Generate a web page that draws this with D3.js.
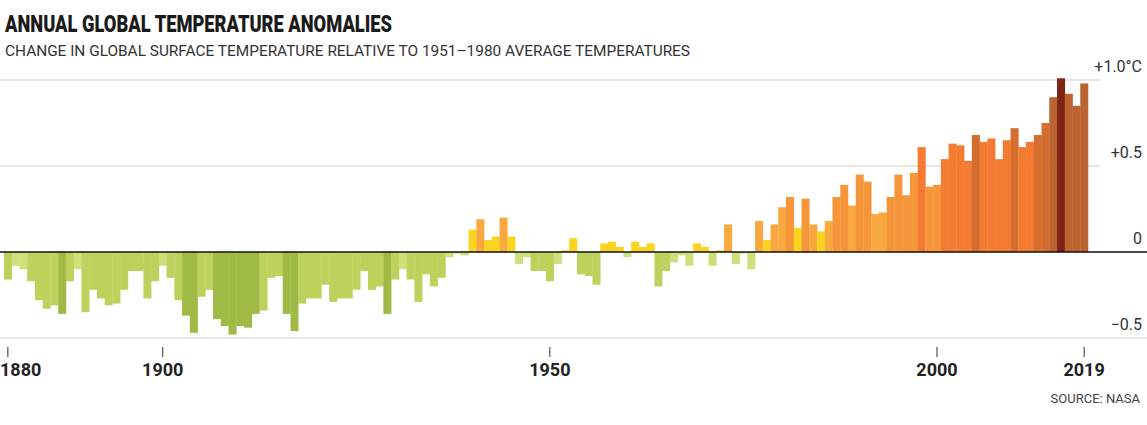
<!DOCTYPE html>
<html><head><meta charset="utf-8">
<script src="https://cdn.jsdelivr.net/npm/d3@7"></script>
<style>body{margin:0;background:#fff}svg{display:block}text{font-family:Roboto,"Noto Sans",sans-serif}</style>
</head><body><svg id="c" width="1147" height="425"></svg>
<script>
// data: NASA GISTEMP annual anomalies
const years = d3.range(1880, 2020);
const anomalies = [
  -0.16,-0.08,-0.10,-0.17,-0.28,-0.33,-0.31,-0.36,-0.17,-0.10,
  -0.35,-0.22,-0.27,-0.31,-0.30,-0.22,-0.11,-0.11,-0.27,-0.17,
  -0.08,-0.15,-0.28,-0.37,-0.47,-0.26,-0.22,-0.39,-0.43,-0.48,
  -0.43,-0.44,-0.36,-0.34,-0.15,-0.14,-0.36,-0.46,-0.30,-0.27,
  -0.27,-0.19,-0.29,-0.27,-0.27,-0.22,-0.11,-0.22,-0.20,-0.36,
  -0.16,-0.10,-0.16,-0.29,-0.13,-0.20,-0.15,-0.03,-0.01,-0.02,
   0.13, 0.19, 0.07, 0.09, 0.20, 0.09,-0.07,-0.03,-0.11,-0.11,
  -0.17,-0.07, 0.01, 0.08,-0.13,-0.14,-0.19, 0.05, 0.06, 0.03,
  -0.03, 0.06, 0.03, 0.05,-0.20,-0.11,-0.06,-0.02,-0.08, 0.05,
   0.03,-0.08, 0.01, 0.16,-0.07,-0.01,-0.10, 0.18, 0.07, 0.16,
   0.26, 0.32, 0.14, 0.31, 0.16, 0.12, 0.18, 0.32, 0.39, 0.27,
   0.45, 0.41, 0.22, 0.23, 0.32, 0.45, 0.33, 0.46, 0.61, 0.38,
   0.39, 0.54, 0.63, 0.62, 0.53, 0.68, 0.64, 0.66, 0.54, 0.65,
   0.72, 0.61, 0.64, 0.68, 0.75, 0.90, 1.01, 0.92, 0.85, 0.98];
const yTicks = [1.0, 0.5, 0, -0.5];
const yTickLabels = ["+1.0°C", "+0.5", "0", "\u22120.5"];
const xTicks = [1880, 1900, 1950, 2000, 2019];

const svg = d3.select("#c");
const x = d3.scaleBand().domain(years).range([4, 1088]).padding(0);
const y = d3.scaleLinear().domain([-0.5, 1.0]).range([338, 80]);

function colour(v, yr) {
  if (yr === 2016) return "#7e2415";
  if (v < -0.35) return "#a0bb45";
  if (v < -0.1) return "#bdd15c";
  if (v < 0) return "#cfe07a";
  if (v < 0.15) return "#fbd422";
  if (v < 0.3) return "#f9a83f";
  if (v < 0.5) return "#f6963a";
  if (v < 0.67) return "#f47b32";
  if (v < 0.8) return "#d46d2e";
  return "#bb6331";
}

// grid
svg.selectAll("line.grid").data(yTicks.filter(d => d !== 0)).enter().append("line")
  .attr("x1", 0).attr("x2", d => d === -0.5 ? 1147 : 1100)
  .attr("y1", d => y(d)).attr("y2", d => y(d))
  .attr("stroke", "#cfcfcf").attr("stroke-width", 1.2);

// bars
svg.selectAll("rect.bar").data(years).enter().append("rect")
  .attr("x", d => x(d)).attr("width", x.bandwidth() + 0.3)
  .attr("y", (d, i) => y(Math.max(0, anomalies[i])))
  .attr("height", (d, i) => Math.abs(y(anomalies[i]) - y(0)))
  .attr("fill", (d, i) => colour(anomalies[i], d));

// baseline
svg.append("line").attr("x1", 0).attr("x2", 1147).attr("y1", y(0)).attr("y2", y(0))
  .attr("stroke", "#111").attr("stroke-width", 1.3);

// y labels
svg.selectAll("text.yl").data(yTicks).enter().append("text")
  .attr("x", 1142).attr("y", d => y(d) - 8).attr("text-anchor", "end")
  .attr("font-size", 16).attr("fill", "#333")
  .text((d, i) => yTickLabels[i]);

// x ticks
const xc = d => x(d) + x.bandwidth() / 2;
svg.selectAll("line.xt").data(xTicks).enter().append("line")
  .attr("x1", xc).attr("x2", xc).attr("y1", 347).attr("y2", 357)
  .attr("stroke", "#333").attr("stroke-width", 1);
svg.selectAll("text.xl").data(xTicks).enter().append("text")
  .attr("x", d => d === 1880 ? 0 : xc(d)).attr("y", 376)
  .attr("text-anchor", d => d === 1880 ? "start" : "middle")
  .attr("font-size", 18).attr("font-weight", 700).attr("fill", "#222")
  .text(d => d);

// titles
svg.append("text").attr("x", 5).attr("y", 32).attr("font-size", 24).attr("font-weight", 900)
  .attr("fill", "#1a1a1a").attr("textLength", 387).attr("lengthAdjust", "spacingAndGlyphs")
  .text("ANNUAL GLOBAL TEMPERATURE ANOMALIES");
svg.append("text").attr("x", 5).attr("y", 56).attr("font-size", 15.5).attr("fill", "#333")
  .attr("textLength", 685).attr("lengthAdjust", "spacingAndGlyphs")
  .text("CHANGE IN GLOBAL SURFACE TEMPERATURE RELATIVE TO 1951–1980 AVERAGE TEMPERATURES");
svg.append("text").attr("x", 1140).attr("y", 403).attr("text-anchor", "end")
  .attr("font-size", 13).attr("fill", "#444")
  .text("SOURCE: NASA");
</script></body></html>
